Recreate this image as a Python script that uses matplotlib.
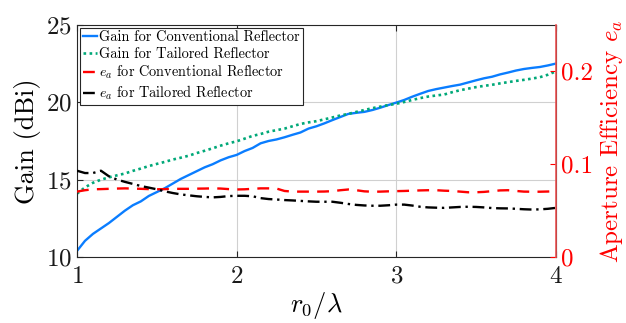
import numpy as np
import matplotlib
matplotlib.use('Agg')
import matplotlib.pyplot as plt

plt.rcParams['font.family'] = 'cmr10'
plt.rcParams['mathtext.fontset'] = 'cm'
plt.rcParams['axes.formatter.use_mathtext'] = True

# r0/lambda sampled at 0.05
r = np.round(np.arange(1.0, 4.0001, 0.05), 2)

gain_conv = [10.4, 11.05, 11.5, 11.85, 12.2, 12.6, 13.0, 13.35, 13.6, 13.95,
             14.2, 14.45, 14.75, 15.05, 15.3, 15.55, 15.8, 16.0, 16.25, 16.45,
             16.6, 16.85, 17.05, 17.35, 17.5, 17.6, 17.74, 17.9, 18.05, 18.3,
             18.45, 18.64, 18.85, 19.05, 19.25, 19.32, 19.38, 19.5, 19.65, 19.82,
             19.98, 20.15, 20.36, 20.55, 20.73, 20.85, 20.95, 21.05, 21.14, 21.28,
             21.42, 21.55, 21.65, 21.8, 21.92, 22.05, 22.15, 22.22, 22.28, 22.38,
             22.5]

gain_tail = [14.1, 14.5, 14.8, 15.0, 15.15, 15.28, 15.4, 15.57, 15.72, 15.88,
             16.02, 16.15, 16.3, 16.42, 16.55, 16.72, 16.87, 17.03, 17.2, 17.35,
             17.48, 17.65, 17.83, 17.95, 18.1, 18.2, 18.3, 18.45, 18.6, 18.7,
             18.78, 18.9, 19.02, 19.15, 19.25, 19.38, 19.5, 19.62, 19.72, 19.82,
             19.9, 20.02, 20.15, 20.27, 20.37, 20.44, 20.5, 20.65, 20.78, 20.88,
             20.98, 21.06, 21.13, 21.22, 21.3, 21.38, 21.45, 21.53, 21.62, 21.78,
             22.0]

ea_conv = [0.0705, 0.072, 0.073, 0.0732, 0.0735, 0.0738, 0.074, 0.0738, 0.0735, 0.0732,
           0.073, 0.0732, 0.0735, 0.0735, 0.0735, 0.0737, 0.0738, 0.074, 0.0738, 0.0732,
           0.0728, 0.073, 0.0735, 0.074, 0.074, 0.0738, 0.0712, 0.0705, 0.0705, 0.0705,
           0.0705, 0.0706, 0.071, 0.072, 0.0728, 0.072, 0.0708, 0.0704, 0.0705, 0.0708,
           0.071, 0.0712, 0.0715, 0.0718, 0.072, 0.072, 0.0715, 0.0712, 0.0705, 0.0698,
           0.0698, 0.0702, 0.071, 0.0718, 0.072, 0.0712, 0.0705, 0.0704, 0.0704, 0.0706,
           0.071]

ea_tail = [0.093, 0.0905, 0.0905, 0.093, 0.087, 0.0835, 0.081, 0.0788, 0.0765, 0.0748,
           0.073, 0.0708, 0.069, 0.0675, 0.0665, 0.0655, 0.0648, 0.0643, 0.0648, 0.0657,
           0.066, 0.066, 0.0655, 0.0635, 0.0625, 0.062, 0.0614, 0.061, 0.0605, 0.06,
           0.0596, 0.0596, 0.0596, 0.0585, 0.0572, 0.0562, 0.0556, 0.0553, 0.0553, 0.0558,
           0.0565, 0.0565, 0.0555, 0.0542, 0.0535, 0.0532, 0.053, 0.0535, 0.054, 0.0542,
           0.054, 0.0535, 0.0528, 0.0525, 0.0524, 0.052, 0.0515, 0.0512, 0.0514, 0.052,
           0.053]

fig = plt.figure(figsize=(6.26, 3.23), dpi=100)
ax = fig.add_axes([0.123, 0.204, 0.765, 0.719])
ax2 = ax.twinx()

l1, = ax.plot(r, gain_conv, color='#0a7dff', lw=1.7, label='Gain for Conventional Reflector')
l2, = ax.plot(r, gain_tail, color='#00a878', lw=1.9, ls=(0, (1, 1.3)), label='Gain for Tailored Reflector')
l3, = ax2.plot(r, ea_conv, color='red', lw=1.7, ls=(0, (5, 3.5)), label=r'$e_a$ for Conventional Reflector')
l4, = ax2.plot(r, ea_tail, color='black', lw=1.7, ls=(0, (5, 2, 1, 2)), label=r'$e_a$ for Tailored Reflector')

ax.set_xlim(1, 4)
ax.set_ylim(10, 25)
ax.set_xticks([1, 2, 3, 4])
ax.set_yticks([10, 15, 20, 25])
ax2.set_ylim(0, 0.25)
ax2.set_yticks([0, 0.1, 0.2])
ax2.set_yticklabels(['0', '0.1', '0.2'])

ax.grid(True, color='#d0d0d0', lw=0.8)
ax.set_axisbelow(True)
ax.tick_params(direction='in', labelsize=18, top=True, length=4, colors='#262626')
ax.tick_params(axis='both', labelcolor='#1a1a1a')
ax.tick_params(axis='x', pad=6)
ax2.tick_params(direction='in', labelsize=18, colors='red', length=4)

for s in ['left', 'top', 'bottom']:
    ax.spines[s].set_color('#262626')
ax2.spines['right'].set_color('#ee5555')
ax2.spines['right'].set_linewidth(1.2)
for s in ['left', 'top', 'bottom']:
    ax2.spines[s].set_visible(False)

ax.set_ylabel('Gain (dBi)', fontsize=19, labelpad=4)
ax.set_xlabel(r'$r_0/\lambda$', fontsize=19, labelpad=2)
ax2.set_ylabel(r'Aperture Efficiency $e_a$', fontsize=18, color='red', labelpad=4)

leg = ax2.legend(handles=[l1, l2, l3, l4], loc='upper left', fontsize=10.3,
                 fancybox=False, framealpha=1, edgecolor='#262626',
                 handlelength=1.0, handletextpad=0.15, borderpad=0.2,
                 labelspacing=0.2, borderaxespad=0.2)
leg.get_frame().set_linewidth(0.8)

fig.savefig('out.png', dpi=100)
